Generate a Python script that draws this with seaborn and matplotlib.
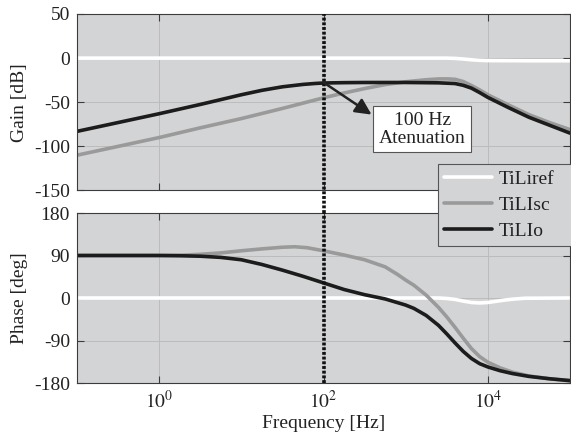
import numpy as np
import pandas as pd
import matplotlib
matplotlib.use("Agg")
import matplotlib.pyplot as plt
import seaborn as sns
from matplotlib.ticker import NullLocator, FixedLocator

# ---------------- data ----------------
series_names = ["TiLiref", "TiLIsc", "TiLIo"]
series_colors = ["#ffffff", "#9a9a9a", "#1c1c1c"]

# gain curves: log10(frequency) and gain in dB
gain_ref_logf = [-1.0, 3.5, 3.6, 3.7, 3.8, 3.9, 4.0, 4.5, 5.0]
gain_ref_db = [0.0, 0.0, -0.3, -1.0, -1.9, -2.5, -2.8, -3.0, -3.0]

gain_sc_logf = [-1.0, -0.5, 0.0, 0.5, 1.0, 1.5, 1.75, 2.0, 2.25, 2.5, 2.75, 3.0,
                3.25, 3.4, 3.5, 3.6, 3.7, 3.8, 3.9, 4.0, 4.25, 4.5, 4.75, 5.0]
gain_sc_db = [-110, -100, -90, -79, -68.5, -57, -51, -45, -39.5, -34.5, -30, -26.8,
              -24.5, -23.6, -23.5, -24, -26.5, -31, -36, -41.5, -53, -64, -73, -81]

gain_io_logf = [-1.0, -0.5, 0.0, 0.5, 1.0, 1.25, 1.5, 1.75, 1.9, 2.0, 2.25, 2.5,
                3.0, 3.4, 3.6, 3.7, 3.8, 3.9, 4.0, 4.25, 4.5, 4.75, 5.0]
gain_io_db = [-83, -73, -63, -52.5, -41.5, -36.5, -32.5, -29.8, -28.7, -28.2, -27.8, -27.6,
              -27.6, -28, -28.8, -30.8, -34, -39, -44.5, -56, -67, -76, -85]

# phase curves: log10(frequency) and phase in degrees
phase_ref_logf = [-1.0, 3.4, 3.5, 3.6, 3.7, 3.8, 3.9, 4.0, 4.1, 4.2, 4.3, 4.45, 5.0]
phase_ref_deg = [0, 0, -1, -3, -6.5, -9.5, -10.5, -9.5, -7, -4.5, -2.5, -0.5, 0]

phase_sc_logf = [-1.0, 0.0, 0.25, 0.5, 0.75, 1.0, 1.25, 1.5, 1.65, 1.8, 2.0, 2.25,
                 2.5, 2.75, 2.9, 3.0, 3.1, 3.25, 3.4, 3.5, 3.6, 3.7, 3.8, 3.9,
                 4.0, 4.15, 4.3, 4.5, 4.75, 5.0]
phase_sc_deg = [90, 90, 90.5, 92.5, 95.5, 100, 104, 107.5, 108.5, 106.5, 100, 91,
                81, 66, 50, 38, 27, 6, -20, -40, -62, -85, -107, -124,
                -136, -148, -157, -165, -171, -175]

phase_io_logf = [-1.0, 0.0, 0.25, 0.5, 0.75, 1.0, 1.25, 1.5, 1.75, 2.0, 2.25, 2.5,
                 2.75, 3.0, 3.1, 3.25, 3.4, 3.5, 3.6, 3.7, 3.8, 3.9, 4.0, 4.15,
                 4.3, 4.5, 4.75, 5.0]
phase_io_deg = [90, 90, 89.5, 88.5, 86, 81, 71, 59, 46, 32, 18, 7,
                -2, -15, -22, -37, -58, -76, -95, -113, -128, -139, -146, -154,
                -160, -166, -171, -175]

marker_freq = 100
annot_text = "100 Hz\nAtenuation"

x_ticks = [1, 100, 10000]
x_tick_labels = [r"$10^{0}$", r"$10^{2}$", r"$10^{4}$"]
gain_ticks = [-150, -100, -50, 0, 50]
phase_ticks = [-180, -90, 0, 90, 180]

# ---------------- build tables ----------------
def make_df(logfs, vals, col):
    frames = []
    for name, lf, v in zip(series_names, logfs, vals):
        frames.append(pd.DataFrame({"freq": 10.0 ** np.asarray(lf, float),
                                    col: v, "series": name}))
    return pd.concat(frames, ignore_index=True)

gain_df = make_df([gain_ref_logf, gain_sc_logf, gain_io_logf],
                  [gain_ref_db, gain_sc_db, gain_io_db], "gain")
phase_df = make_df([phase_ref_logf, phase_sc_logf, phase_io_logf],
                   [phase_ref_deg, phase_sc_deg, phase_io_deg], "phase")

# ---------------- style ----------------
sns.set_style("ticks")
plt.rcParams["font.family"] = ["Liberation Serif", "DejaVu Serif"]
plt.rcParams["mathtext.fontset"] = "stix"
plt.rcParams["axes.unicode_minus"] = False
plt.rcParams["font.size"] = 14

bg = "#d3d4d6"
spine_c = "#3c3c3c"
palette = dict(zip(series_names, series_colors))

W, H = 571, 440
fig = plt.figure(figsize=(W / 100, H / 100), dpi=100)
fig.patch.set_facecolor("white")

def px_rect(l, t, r, b):
    return [l / W, 1 - b / H, (r - l) / W, (b - t) / H]

ax1 = fig.add_axes(px_rect(77, 14, 570, 190.5))
ax2 = fig.add_axes(px_rect(77, 213, 570, 383))

line_kw = dict(linewidth=2.6, solid_joinstyle="round", solid_capstyle="round")
sns.lineplot(data=gain_df, x="freq", y="gain", hue="series", palette=palette,
             hue_order=series_names, ax=ax1, legend=False, estimator=None,
             sort=True, **line_kw)
sns.lineplot(data=phase_df, x="freq", y="phase", hue="series", palette=palette,
             hue_order=series_names, ax=ax2, legend=False, estimator=None,
             sort=True, **line_kw)

handles = list(ax1.get_lines()[:3])

for ax in (ax1, ax2):
    ax.set_xscale("log")
    ax.set_xlim(10 ** -1.0, 10 ** 5.0)
    ax.set_facecolor(bg)
    ax.xaxis.set_major_locator(FixedLocator(x_ticks))
    ax.xaxis.set_minor_locator(NullLocator())
    ax.grid(True, color="#bcbcbc", linewidth=0.7)
    ax.set_axisbelow(True)
    ax.tick_params(direction="in", top=True, right=True, length=5, width=0.8,
                   color=spine_c, labelsize=14, labelcolor="#222222", pad=5)
    for s in ax.spines.values():
        s.set_color(spine_c)
        s.set_linewidth(0.8)

ax1.set_ylim(-150, 50)
ax1.set_yticks(gain_ticks)
ax1.set_xticklabels([])
ax1.set_xlabel("")
ax1.set_ylabel("Gain [dB]", fontsize=14, color="#222222", labelpad=4)

ax2.set_ylim(-180, 180)
ax2.set_yticks(phase_ticks)
ax2.set_xticklabels(x_tick_labels)
ax2.set_xlabel("Frequency [Hz]", fontsize=14, color="#222222", labelpad=2)
ax2.set_ylabel("Phase [deg]", fontsize=14, color="#222222", labelpad=4)

# vertical dotted marker at 100 Hz spanning both panels and the gap
gap_frac = (213 - 190.5) / (190.5 - 14)
dot_style = dict(color="#111111", linestyle=(0, (0.8, 0.5)), linewidth=2.6)
ax1.axvline(marker_freq, ymin=-gap_frac, ymax=1, clip_on=False, zorder=4, **dot_style)
ax2.axvline(marker_freq, zorder=4, **dot_style)

# annotation
ax1.annotate("", xy=(10 ** 2.585, -64), xytext=(marker_freq, -27.5),
             arrowprops=dict(arrowstyle="-|>,head_length=0.65,head_width=0.32",
                             color="#222222", lw=1.8, shrinkA=0, shrinkB=0,
                             mutation_scale=15), zorder=5)
ax1.text(10 ** 3.2, -80.6, annot_text, ha="center", va="center", fontsize=14,
         color="#222222", linespacing=1.05,
         bbox=dict(boxstyle="square,pad=0.3", fc="white", ec="#555555", lw=0.8),
         zorder=6)

leg = fig.legend(handles=handles, labels=series_names, loc="upper left",
                 bbox_to_anchor=(438 / W, 0, (590 - 438) / W, 1 - 164.3 / H),
                 mode="expand", frameon=True,
                 fancybox=False, facecolor=bg, edgecolor="#555555", framealpha=1,
                 fontsize=14, handlelength=2.5, handletextpad=0.3,
                 labelspacing=0.43, borderpad=0.3, borderaxespad=0)
leg.get_frame().set_linewidth(0.8)
for t in leg.get_texts():
    t.set_color("#222222")
for l in leg.get_lines():
    l.set_linewidth(2.6)

fig.savefig("out.png", dpi=100, facecolor="white")
